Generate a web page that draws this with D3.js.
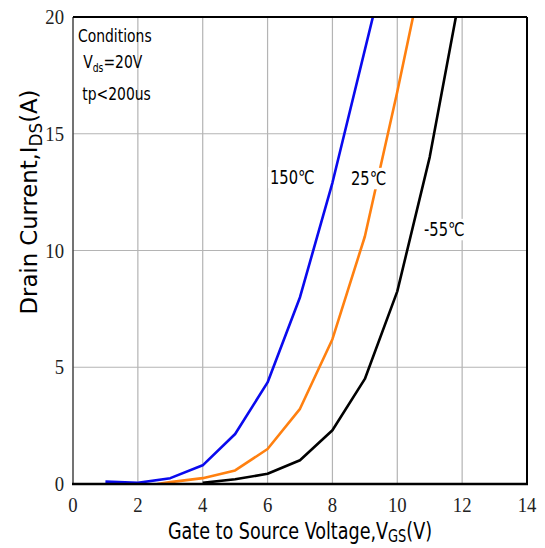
<!DOCTYPE html>
<html><head><meta charset="utf-8">
<script src="https://cdn.jsdelivr.net/npm/d3@7"></script>
<style>body{margin:0;background:#fff}svg{display:block}</style>
</head><body>
<svg id="c" width="545" height="548"></svg>
<script>
const xTicks = [0,2,4,6,8,10,12,14];
const yTicks = [0,5,10,15,20];
const series150 = [[1,0.1],[2,0.05],[3,0.25],[4,0.8],[5,2.14],[6,4.35],[7,8.0],[8,12.9],[9.3,20.3]];
const series25 = [[2.6,0],[3,0.08],[4,0.25],[5,0.58],[6,1.5],[7,3.22],[8,6.2],[9,10.6],[10,16.8],[10.5,20.1]];
const seriesM55 = [[4,0.05],[5,0.2],[6,0.44],[7,1.02],[8,2.3],[9,4.5],[10,8.25],[11,14.0],[11.82,20.1]];
const seriesNames = ["150℃","25℃","-55℃"];
const seriesColors = ["#0a0aee","#ff8010","#000000"];

const svg = d3.select("#c");
const m = {l:73, r:527, t:17, b:484};
const x = d3.scaleLinear().domain([0,14]).range([m.l, m.r]);
const y = d3.scaleLinear().domain([0,20]).range([m.b, m.t]);

// grid
svg.append("g").selectAll("line").data(xTicks.slice(1,-1)).join("line")
  .attr("x1", d=>x(d)).attr("x2", d=>x(d)).attr("y1", m.t).attr("y2", m.b)
  .attr("stroke","#b4b4b4").attr("stroke-width",1.2);
svg.append("g").selectAll("line").data(yTicks.slice(1,-1)).join("line")
  .attr("y1", d=>y(d)).attr("y2", d=>y(d)).attr("x1", m.l).attr("x2", m.r)
  .attr("stroke","#b4b4b4").attr("stroke-width",1.2);

// clip
svg.append("clipPath").attr("id","clip").append("rect")
  .attr("x",m.l).attr("y",m.t).attr("width",m.r-m.l).attr("height",m.b-m.t);

const line = d3.line().x(d=>x(d[0])).y(d=>y(d[1]));
const all = [series150, series25, seriesM55];
const gL = svg.append("g").attr("clip-path","url(#clip)");
all.forEach((s,i)=>{
  gL.append("path").attr("d", line(s)).attr("fill","none")
    .attr("stroke", seriesColors[i]).attr("stroke-width",2.6).attr("stroke-linejoin","round");
});

const labelFont = "'DejaVu Sans Condensed','DejaVu Sans',sans-serif";
const SX = 0.86;

// series labels with white background
const labels = [
  {t:seriesNames[0], x:270, y:184},
  {t:seriesNames[1], x:351, y:185},
  {t:seriesNames[2], x:424, y:236}
];
labels.forEach(L=>{
  const g = svg.append("g").attr("transform",`translate(${L.x},${L.y}) scale(${SX},1)`);
  const t = g.append("text").attr("x",0).attr("y",0).text(L.t)
    .attr("font-family",labelFont).attr("font-size",19).attr("fill","#000");
  const bb = t.node().getBBox();
  g.insert("rect", "text").attr("x",bb.x-2).attr("y",bb.y).attr("width",bb.width+4).attr("height",bb.height).attr("fill","#fff");
});

// frame
svg.append("line").attr("x1",m.l).attr("x2",m.l).attr("y1",m.t).attr("y2",m.b).attr("stroke","#444").attr("stroke-width",1.5);
svg.append("line").attr("x1",m.r).attr("x2",m.r).attr("y1",m.t).attr("y2",m.b).attr("stroke","#000").attr("stroke-width",2);
svg.append("line").attr("x1",m.l).attr("x2",m.r).attr("y1",m.t).attr("y2",m.t).attr("stroke","#000").attr("stroke-width",2);
svg.append("line").attr("x1",m.l-1).attr("x2",m.r+1).attr("y1",m.b).attr("y2",m.b).attr("stroke","#000").attr("stroke-width",2.5);

// tick labels (condensed serif)
const tickFont = "'Liberation Serif','DejaVu Serif',serif";
svg.append("g").selectAll("g").data(xTicks).join("g")
  .attr("transform", d=>`translate(${x(d)},512) scale(0.85,1)`)
  .append("text").attr("text-anchor","middle")
  .attr("font-family",tickFont).attr("font-size",22).attr("fill","#222").text(d=>d);
svg.append("g").selectAll("g").data(yTicks).join("g")
  .attr("transform", d=>`translate(64,${y(d)+7}) scale(0.85,1)`)
  .append("text").attr("text-anchor","end")
  .attr("font-family",tickFont).attr("font-size",22).attr("fill","#222").text(d=>d);

// conditions
const cg = svg.append("g").attr("transform",`translate(78,0) scale(${SX},1)`)
  .attr("font-family",labelFont).attr("font-size",18).attr("fill","#000");
cg.append("text").attr("x",0).attr("y",42).text("Conditions");
const vt = cg.append("text").attr("x",6).attr("y",68);
vt.append("tspan").text("V");
vt.append("tspan").attr("dy",4).attr("font-size",12).text("ds");
vt.append("tspan").attr("dy",-4).text("=20V");
cg.append("text").attr("x",5).attr("y",100).text("tp<200us");

// axis titles
const xt = svg.append("g").attr("transform","translate(300,539) scale(0.85,1)")
  .append("text").attr("text-anchor","middle")
  .attr("font-family",labelFont).attr("font-size",23).attr("fill","#000");
xt.append("tspan").text("Gate to Source Voltage,V");
xt.append("tspan").attr("dy",3).attr("font-size",17).text("GS");
xt.append("tspan").attr("dy",-3).text("(V)");

const yt = svg.append("g").attr("transform","translate(37,202) rotate(-90) scale(1.1,1)")
  .append("text").attr("text-anchor","middle")
  .attr("font-family",labelFont).attr("font-size",23).attr("fill","#000");
yt.append("tspan").text("Drain Current,I");
yt.append("tspan").attr("dy",5).attr("font-size",17).text("DS");
yt.append("tspan").attr("dy",-5).text("(A)");
</script>
</body></html>
